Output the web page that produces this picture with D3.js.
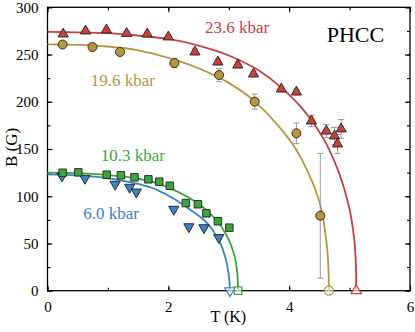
<!DOCTYPE html>
<html>
<head>
<meta charset="utf-8">
<script src="https://d3js.org/d3.v7.min.js"></script>
<style>
  html, body { margin: 0; padding: 0; background: #fff; }
  svg text { font-family: "Liberation Serif", "Times New Roman", serif; }
</style>
</head>
<body>
<div id="chart"></div>
<script>
// Measured points (T in K, B in G) with error bars
var t236 = [0.26, 0.63, 0.975, 1.31, 1.65, 2.0, 2.44, 2.82, 3.15, 3.41, 3.87, 4.12, 4.37, 4.615, 4.75, 4.86, 4.80];
var b236 = [271.7, 274.9, 276.0, 272.3, 271.7, 268.6, 252.7, 242.1, 238.9, 229.4, 213.5, 210.3, 179.6, 169.0, 163.8, 171.2, 155.3];
var e236 = [2, 2, 2, 2, 2, 2, 3, 3, 3, 3, 3, 3, 6, 7, 9, 10, 10];

var t196 = [0.25, 0.745, 1.2, 2.1, 2.84, 3.43, 4.12, 4.515];
var b196 = [260.6, 258.0, 252.7, 241.0, 228.3, 200.1, 166.6, 79.4];
var e196 = [2, 2, 3, 5, 7, 8, 11, 66];

var t103 = [0.25, 0.51, 0.98, 1.215, 1.44, 1.67, 1.85, 2.025, 2.29, 2.49, 2.63, 2.82, 3.01];
var b103 = [124.9, 125.3, 122.8, 122.2, 120.0, 117.9, 115.4, 111.1, 92.8, 91.5, 81.9, 73.5, 66.7];
var e103 = [1, 1, 1, 1, 1, 1, 1, 2, 2, 2, 2, 3, 3];

var t60 = [0.24, 0.62, 1.12, 1.36, 1.47, 2.09, 2.34, 2.59, 2.835];
var b60 = [121.4, 119.0, 112.6, 109.5, 104.5, 86.2, 67.7, 66.7, 56.3];
var e60 = [1, 1, 1, 1, 1, 2, 2, 2, 2];

// Transition temperatures at B = 0 (open symbols)
var tcValues = [5.11, 4.658, 3.154, 3.02];

// Fit curves
var fitT236 = [0, 1.0, 1.5, 2.0, 2.5, 3.0, 3.5, 3.85, 4.2, 4.45, 4.65, 4.8, 4.92, 5.0, 5.06, 5.095, 5.108, 5.11];
var fitB236 = [274, 272.6, 270, 266.5, 259.5, 249, 233, 216, 194, 173, 151, 129, 106, 86, 63, 40, 18, 0];

var fitT196 = [0, 0.5, 1.0, 1.5, 2.0, 2.5, 3.0, 3.4, 3.8, 4.1, 4.3, 4.45, 4.55, 4.61, 4.645, 4.655, 4.658];
var fitB196 = [260.8, 260.3, 258.5, 254.5, 246.5, 235.5, 220, 202, 176, 151, 127, 104, 81, 55, 30, 14, 0];

var fitT103 = [0, 0.5, 1.0, 1.5, 1.8, 2.1, 2.3, 2.5, 2.7, 2.88, 3.0, 3.08, 3.13, 3.148, 3.154];
var fitB103 = [124.9, 124.5, 122.5, 118.5, 114, 106.5, 100, 92, 81, 67.5, 54, 40, 25, 12, 0];

var fitT60 = [0, 0.5, 1.0, 1.5, 1.8, 2.1, 2.3, 2.5, 2.65, 2.8, 2.9, 2.97, 3.0, 3.014, 3.02];
var fitB60 = [123.2, 122, 119, 113, 107, 97, 88.5, 79.5, 71, 57.5, 44, 28, 16, 8, 0];

var xTicks = [0, 2, 4, 6];
var yTicks = [0, 50, 100, 150, 200, 250, 300];

var series = [
  { label: "23.6 kbar", color: "#c8413f", shape: "up", t: t236, b: b236, e: e236, fitT: fitT236, fitB: fitB236, tc: tcValues[0], lx: 205, ly: 33.3 },
  { label: "19.6 kbar", color: "#b7963c", shape: "circle", t: t196, b: b196, e: e196, fitT: fitT196, fitB: fitB196, tc: tcValues[1], lx: 90.7, ly: 85.7 },
  { label: "10.3 kbar", color: "#3ba63b", shape: "square", t: t103, b: b103, e: e103, fitT: fitT103, fitB: fitB103, tc: tcValues[2], lx: 100.7, ly: 160.7 },
  { label: "6.0 kbar", color: "#3a83c2", shape: "down", t: t60, b: b60, e: e60, fitT: fitT60, fitB: fitB60, tc: tcValues[3], lx: 83.3, ly: 219.3 }
];

var serif = "'Liberation Serif', 'Times New Roman', serif";
var W = 415, H = 332;
var padL = 47.5, padR = 410, padT = 7.3, padB = 290.7;

var svg = d3.select("#chart").append("svg")
  .attr("width", W)
  .attr("height", H);

var x = d3.scaleLinear().domain([0, 6]).range([padL, padR]);
var y = d3.scaleLinear().domain([0, 300]).range([padB, padT]);

// Axes, ticks pointing inward
var minorX = d3.range(0, 6.01, 1);
var minorY = d3.range(0, 300.1, 25);

svg.append("g")
  .attr("transform", "translate(0," + padB + ")")
  .call(d3.axisBottom(x).tickValues(minorX).tickSize(-3).tickFormat(""));
svg.append("g")
  .attr("transform", "translate(0," + padB + ")")
  .call(d3.axisBottom(x).tickValues(xTicks).tickSize(-5).tickPadding(11).tickFormat(d3.format("d")));
svg.append("g")
  .attr("transform", "translate(0," + padT + ")")
  .call(d3.axisTop(x).tickValues(minorX).tickSize(-3).tickFormat(""));
svg.append("g")
  .attr("transform", "translate(0," + padT + ")")
  .call(d3.axisTop(x).tickValues(xTicks).tickSize(-5).tickFormat(""));

svg.append("g")
  .attr("transform", "translate(" + padL + ",0)")
  .call(d3.axisLeft(y).tickValues(minorY).tickSize(-3).tickFormat(""));
svg.append("g")
  .attr("transform", "translate(" + padL + ",0)")
  .call(d3.axisLeft(y).tickValues(yTicks).tickSize(-5).tickPadding(9).tickFormat(d3.format("d")));
svg.append("g")
  .attr("transform", "translate(" + padR + ",0)")
  .call(d3.axisRight(y).tickValues(minorY).tickSize(-3).tickFormat(""));
svg.append("g")
  .attr("transform", "translate(" + padR + ",0)")
  .call(d3.axisRight(y).tickValues(yTicks).tickSize(-5).tickFormat(""));

svg.selectAll(".domain").remove();
svg.selectAll("g").attr("font-family", serif);
svg.selectAll(".tick line").attr("stroke", "#000").attr("stroke-width", 1.1);
svg.selectAll(".tick text")
  .attr("fill", "#000")
  .style("font-family", serif)
  .style("font-size", "15px");

// Frame
svg.append("rect")
  .attr("x", padL)
  .attr("y", padT)
  .attr("width", padR - padL)
  .attr("height", padB - padT)
  .attr("fill", "none")
  .attr("stroke", "#000")
  .attr("stroke-width", 1.3);

// Fit curves
var line = d3.line()
  .x(function(d) { return x(d[0]); })
  .y(function(d) { return y(d[1]); })
  .curve(d3.curveMonotoneX);

series.forEach(function(s) {
  svg.append("path")
    .datum(d3.zip(s.fitT, s.fitB))
    .attr("fill", "none")
    .attr("stroke", s.color)
    .attr("stroke-width", 1.8)
    .attr("d", line);
});

// Symbols
function symbolPath(shape) {
  if (shape === "circle") return d3.symbol(d3.symbolCircle, 64)();
  if (shape === "square") return d3.symbol(d3.symbolSquare, 56)();
  return d3.symbol(d3.symbolTriangle, 46)();
}

series.slice().reverse().forEach(function(s) {
  var pts = d3.zip(s.t, s.b, s.e);
  var g = svg.append("g");

  // error bars
  pts.forEach(function(p) {
    var x0 = x(p[0]), yTop = y(p[1] + p[2]), yBot = y(p[1] - p[2]);
    g.append("line").attr("x1", x0).attr("x2", x0).attr("y1", yTop).attr("y2", yBot)
      .attr("stroke", "#999").attr("stroke-width", 1);
    [yTop, yBot].forEach(function(yy) {
      g.append("line").attr("x1", x0 - 3).attr("x2", x0 + 3).attr("y1", yy).attr("y2", yy)
        .attr("stroke", "#999").attr("stroke-width", 1);
    });
  });

  g.selectAll("path.pt")
    .data(pts)
    .enter()
    .append("path")
    .attr("class", "pt")
    .attr("d", symbolPath(s.shape))
    .attr("transform", function(d) {
      return "translate(" + x(d[0]) + "," + y(d[1]) + ")" + (s.shape === "down" ? " rotate(180)" : "");
    })
    .attr("fill", s.color)
    .attr("stroke", "#222")
    .attr("stroke-width", 0.9);

  // open symbol at the transition temperature
  g.append("path")
    .attr("d", symbolPath(s.shape))
    .attr("transform", "translate(" + x(s.tc) + "," + y(0) + ")" + (s.shape === "down" ? " rotate(180)" : ""))
    .attr("fill", "#fff")
    .attr("fill-opacity", 0.6)
    .attr("stroke", s.color)
    .attr("stroke-width", 1.2);

  // series label
  svg.append("text")
    .attr("x", s.lx)
    .attr("y", s.ly)
    .attr("fill", s.color)
    .style("font-family", serif)
    .style("font-size", "17px")
    .text(s.label);
});

svg.append("text")
  .attr("x", 326.7)
  .attr("y", 41.7)
  .attr("fill", "#000")
  .style("font-family", serif)
  .style("font-size", "22px")
  .text("PHCC");

// Axis titles
svg.append("text")
  .attr("x", 228.3)
  .attr("y", 322)
  .attr("text-anchor", "middle")
  .style("font-family", serif)
  .style("font-size", "16px")
  .text("T (K)");

svg.append("text")
  .attr("transform", "translate(17,147.5) rotate(-90)")
  .attr("text-anchor", "middle")
  .style("font-family", serif)
  .style("font-size", "17px")
  .text("B (G)");
</script>
</body>
</html>
